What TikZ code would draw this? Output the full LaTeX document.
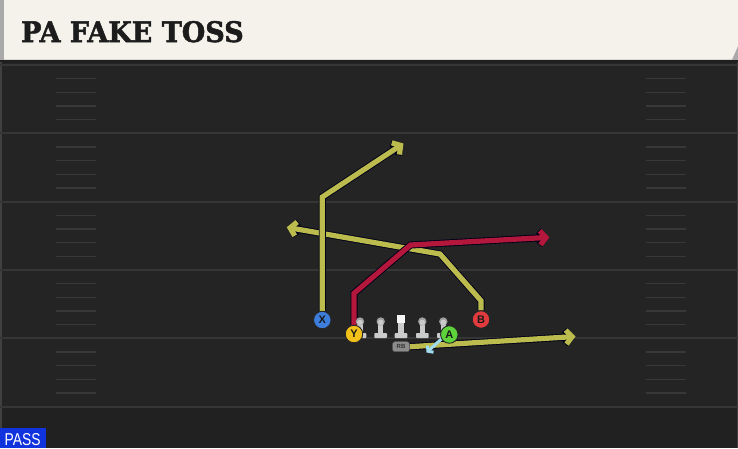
\documentclass[tikz,border=0pt]{standalone}
\usepackage{graphicx}
\usepackage{fontspec}
\setmainfont{Liberation Sans}
\newfontfamily\titlefont{DejaVu Serif Bold}[FakeBold=1.8]
\usetikzlibrary{arrows.meta}
\pgfdeclarelayer{field}
\pgfdeclarelayer{routes}
\pgfsetlayers{field,routes,main}
\definecolor{fieldbg}{HTML}{242424}
\definecolor{fieldlow}{HTML}{212121}
\definecolor{yardcol}{HTML}{363636}
\definecolor{hashcol}{HTML}{383838}
\definecolor{titlebg}{HTML}{F4F2EB}
\definecolor{titletext}{HTML}{1C1C1C}
\definecolor{edgegrey}{HTML}{A9A9A9}
\definecolor{routeyellow}{HTML}{BBBB4E}
\definecolor{routered}{HTML}{B3173B}
\definecolor{pitchblue}{HTML}{9FDCEF}
\definecolor{passblue}{HTML}{1133DD}
\definecolor{xblue}{HTML}{3D7DDC}
\definecolor{yyellow}{HTML}{F2C21B}
\definecolor{agreen}{HTML}{5DD23A}
\definecolor{bred}{HTML}{E23B3E}
\definecolor{lineman}{HTML}{CBCBCB}
\definecolor{linehead}{HTML}{A0A0A0}
\tikzset{
  yardline/.style={draw=yardcol, line width=2pt},
  hashmark/.style={draw=hashcol, line width=1.4pt},
  player/.style={circle, minimum size=17.5pt, inner sep=0pt, draw=black!85, line width=0.9pt,
    font=\fontsize{11}{11}\selectfont\bfseries, text=black!90},
  rtout/.style={draw=black!90!blue, line width=7pt, -{Straight Barb[length=6pt,width=14pt]}},
  rtin/.style={line width=5.2pt, -{Straight Barb[length=6pt,width=14pt]}},
  pitch/.style={draw=pitchblue, line width=3pt, -{Straight Barb[length=3.5pt,width=9pt]}},
  rbbox/.style={rounded corners=2.5pt, fill=black!45, draw=black!65, line width=0.5pt,
    minimum width=17pt, minimum height=10pt, inner sep=0pt,
    font=\fontsize{6}{6}\selectfont\bfseries, text=black!80},
  lineman/.pic={
    \fill[lineman, rounded corners=0.8pt] (-6.3,0) rectangle (6.3,-5);
    \fill[lineman] (-2.6,-4) rectangle (2.6,-15);
    \fill[linehead] (0,-16.5) circle (4.2);
    \fill[lineman] (0,-15.6) circle (2.8);
  },
  centerman/.pic={
    \fill[lineman, rounded corners=0.8pt] (-6.3,0) rectangle (6.3,-5);
    \fill[lineman] (-2.6,-4) rectangle (2.6,-16);
    \fill[white!96!black] (-4,-15.5) rectangle (4,-23);
  },
}
\newcommand\playroute[2]{%
  \draw[rtout] #2;
  \draw[rtin, draw=#1] #2;}
\begin{document}
\begin{tikzpicture}[x=1pt,y=-1pt]
\useasboundingbox (0,0) rectangle (738,448);
\begin{pgfonlayer}{field}
  \fill[fieldbg] (0,59) rectangle (738,448);
  \fill[fieldlow] (0,407) rectangle (738,448);
  \fill[black!88] (0,59) rectangle (738,62.5);
  \fill[black!75] (0,62) rectangle (2.2,448);
  \fill[black!75] (736.5,62) rectangle (738,448);
  \foreach \yl in {65,133.33,201.67,270,338.33,406.67} {
    \draw[yardline] (0,\yl) -- (738,\yl);
  }
  \foreach \yl in {65,133.33,201.67,270,338.33} {
    \foreach \k in {1,2,3,4} {
      \draw[hashmark] (56,\yl+\k*13.67) -- (96,\yl+\k*13.67);
      \draw[hashmark] (646,\yl+\k*13.67) -- (686,\yl+\k*13.67);
    }
  }
  \fill[edgegrey] (0,0) rectangle (738,59.5);
  \fill[titlebg] (4,0) -- (738,0) -- (738,46) -- (732,59.5) -- (4,59.5) -- cycle;
\end{pgfonlayer}
\node[anchor=south west, inner sep=0pt, text=titletext] (title) at (21,42.6)
  {\resizebox{222.5pt}{21pt}{\titlefont PA FAKE TOSS}};
\fill[passblue] (0,427.7) rectangle (46,448);
\node[inner sep=0pt, text=white] (pass) at (22.7,439.2) {\resizebox{36pt}{12pt}{PASS}};
\pic at (360,338) {lineman};
\pic at (380.7,338) {lineman};
\pic at (401,338) {centerman};
\pic at (422.3,338) {lineman};
\pic at (443.3,338) {lineman};
\node[player, fill=xblue] (X) at (322.3,320) {X};
\node[player, fill=bred] (B) at (481,319.5) {B};
\node[player, fill=yyellow] (Y) at (354,334) {Y};
\node[player, fill=agreen] (A) at (449.3,334.5) {A};
\node[rbbox] (RB) at (401,346.7) {RB};
\coordinate (xb) at (322.3,197);
\coordinate (xe) at (403.5,143.5);
\coordinate (bb1) at (481,300.7);
\coordinate (bb2) at (440,254);
\coordinate (be) at (286.7,227.3);
\coordinate (yb1) at (354,293.3);
\coordinate (yb2) at (410.5,245);
\coordinate (ye) at (549.5,237.3);
\coordinate (rbe) at (575.5,336.5);
\coordinate (ps) at (442,338.5);
\coordinate (pe) at (426.5,352.5);
\begin{pgfonlayer}{routes}
  \playroute{routeyellow}{(B) -- (bb1) -- (bb2) -- (be)}
  \playroute{routeyellow}{(X) -- (xb) -- (xe)}
  \playroute{routered}{(Y) -- (yb1) -- (yb2) -- (ye)}
  \playroute{routeyellow}{(RB.east) -- (rbe)}
  \draw[pitch] (ps) -- (pe);
\end{pgfonlayer}
\end{tikzpicture}
\end{document}
